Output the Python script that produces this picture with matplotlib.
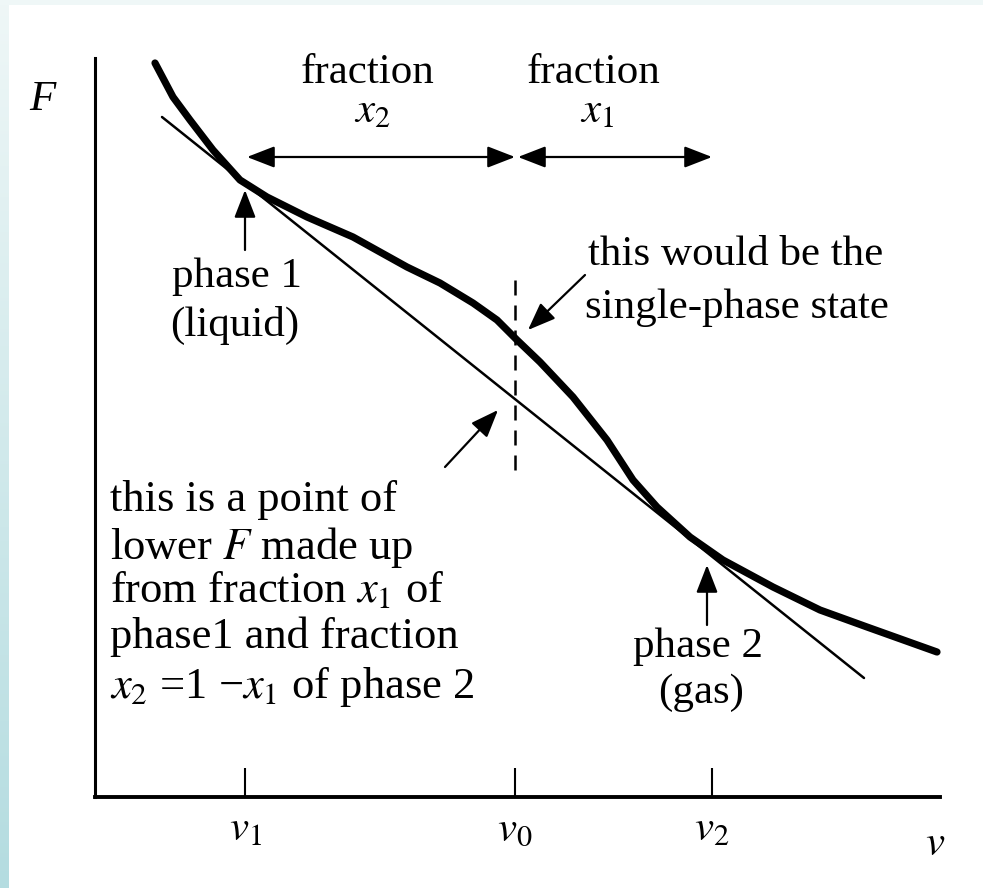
import numpy as np
import matplotlib.pyplot as plt
from matplotlib.colors import LinearSegmentedColormap
from matplotlib.patches import Rectangle

# 字体：Times 风格的衬线字体
plt.rcParams['font.family'] = ['Liberation Serif', 'DejaVu Serif']
plt.rcParams['mathtext.fontset'] = 'stix'

# 曲线 F(v)（粗线）
v_curve = [0.60, 0.78, 0.95, 1.18, 1.45, 1.72, 2.12, 2.58, 3.12, 3.45, 3.78, 4.02,
           4.22, 4.45, 4.78, 5.12, 5.38, 5.62, 5.95, 6.28, 6.78, 7.25, 7.72, 8.42]
F_curve = [7.34, 7.00, 6.77, 6.47, 6.17, 6.00, 5.80, 5.60, 5.30, 5.14, 4.94, 4.77,
           4.57, 4.35, 4.00, 3.57, 3.17, 2.90, 2.60, 2.37, 2.10, 1.87, 1.70, 1.45]

# 公切线（细线）
v_line = [0.67, 7.69]
F_line = [6.80, 1.19]

# 横轴刻度
v_ticks = [1.50, 4.20, 6.17]
tick_labels = [r'$v_1$', r'$v_0$', r'$v_2$']

# v0 处的虚线
dash_F = [5.17, 3.20]

# 文字
block_lines = ['this is a point of',
               r'lower $F$ made up',
               r'from fraction $x_1$ of',
               'phase1 and fraction',
               r'$x_2$ =1 −$x_1$ of phase 2']

fs = 31

fig = plt.figure(figsize=(9.83, 8.88), dpi=100)

# 左侧和顶部的浅色边框
bg = fig.add_axes([0, 0, 1, 1])
bg.axis('off')
bg.set_xlim(0, 1)
bg.set_ylim(0, 1)
cmap = LinearSegmentedColormap.from_list('edge', ['#eff7f7', '#b4dce0'])
grad = np.linspace(0, 1, 256).reshape(-1, 1)
bg.imshow(grad, extent=[0, 9 / 983, 0, 1], aspect='auto', cmap=cmap, origin='upper')
bg.add_patch(Rectangle((0, 1 - 5 / 888), 1, 5 / 888, color='#eff7f7', lw=0))

ax = fig.add_axes([0, 0, 1, 1])
ax.patch.set_alpha(0)
ax.set_xlim(-0.95, 8.88)
ax.set_ylim(-0.91, 7.97)

for s in ['top', 'right']:
    ax.spines[s].set_visible(False)
ax.spines['left'].set_position(('data', 0))
ax.spines['left'].set_bounds(0, 7.39)
ax.spines['left'].set_linewidth(2.2)
ax.spines['bottom'].set_position(('data', 0))
ax.spines['bottom'].set_bounds(0, 8.45)
ax.spines['bottom'].set_linewidth(2.8)

ax.set_yticks([])
ax.set_xticks(v_ticks, tick_labels)
ax.tick_params(axis='x', direction='in', length=21, width=1.5, pad=10, labelsize=fs)

# 曲线和切线
ax.plot(v_curve, F_curve, color='black', lw=5.2, solid_capstyle='round', solid_joinstyle='round')
ax.plot(v_line, F_line, color='black', lw=1.8, solid_capstyle='round')
ax.plot([v_ticks[1], v_ticks[1]], dash_F, color='black', lw=1.8, linestyle=(0, (6, 4)))

# 箭头
arrow = dict(arrowstyle='-|>,head_length=0.85,head_width=0.33', color='black', lw=1.6,
             shrinkA=0, shrinkB=0, mutation_scale=20)
arrow2 = dict(arrow, arrowstyle='<|-|>,head_length=0.85,head_width=0.33')
ax.annotate('', xy=(1.52, 6.40), xytext=(4.20, 6.40), arrowprops=arrow2)
ax.annotate('', xy=(4.23, 6.40), xytext=(6.17, 6.40), arrowprops=arrow2)
ax.annotate('', xy=(1.50, 6.07), xytext=(1.50, 5.47), arrowprops=arrow)
ax.annotate('', xy=(6.12, 2.32), xytext=(6.12, 1.72), arrowprops=arrow)
ax.annotate('', xy=(4.33, 4.67), xytext=(4.90, 5.22), arrowprops=arrow)
ax.annotate('', xy=(4.03, 3.87), xytext=(3.50, 3.30), arrowprops=arrow)

# 文字标注
ax.text(-0.53, 6.97, 'F', style='italic', fontsize=fs, ha='center', va='center')
ax.text(8.40, -0.48, r'$v$', fontsize=fs, ha='center', va='center')
ax.text(2.72, 7.24, 'fraction', fontsize=fs, ha='center', va='center')
ax.text(2.77, 6.85, r'$x_2$', fontsize=fs, ha='center', va='center')
ax.text(4.99, 7.24, 'fraction', fontsize=fs, ha='center', va='center')
ax.text(5.02, 6.85, r'$x_1$', fontsize=fs, ha='center', va='center')
ax.text(0.77, 5.20, 'phase 1', fontsize=fs, ha='left', va='center')
ax.text(0.75, 4.72, '(liquid)', fontsize=fs, ha='left', va='center')
ax.text(4.93, 5.42, 'this would be the', fontsize=fs, ha='left', va='center')
ax.text(4.90, 4.89, 'single-phase state', fontsize=fs, ha='left', va='center')
ax.text(6.03, 1.50, 'phase 2', fontsize=fs, ha='center', va='center')
ax.text(6.06, 1.04, '(gas)', fontsize=fs, ha='center', va='center')
for F_pos, line in zip([2.97, 2.50, 2.07, 1.60, 1.10], block_lines):
    ax.text(0.15, F_pos, line, fontsize=fs + 1, ha='left', va='center')

plt.savefig('out.png', dpi=100)
